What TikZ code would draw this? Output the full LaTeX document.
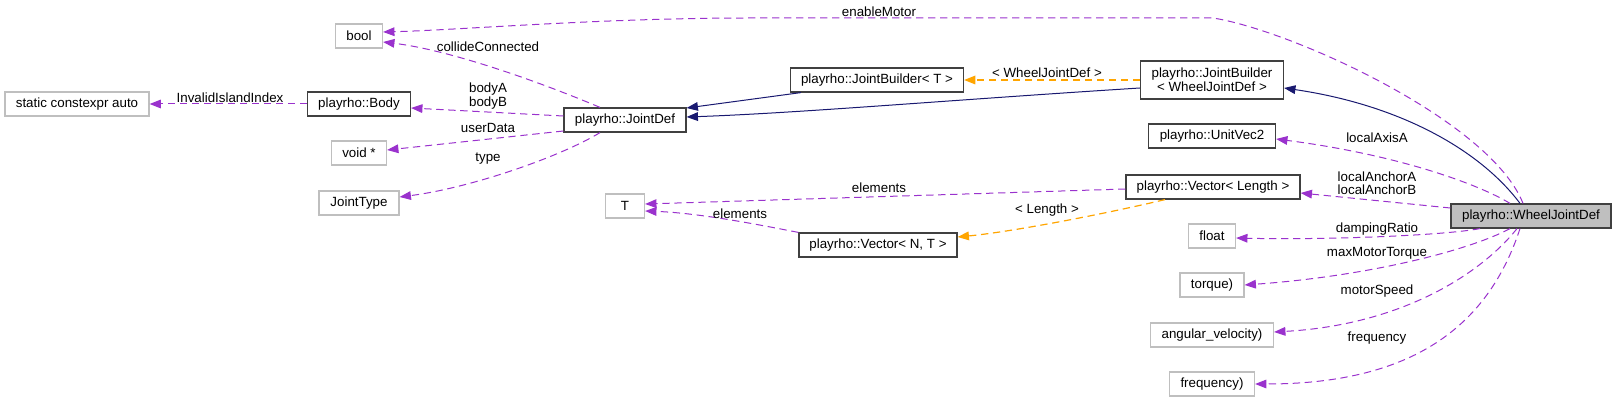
\documentclass[tikz,border=0pt]{standalone}
\usepackage{fontspec}
\setmainfont{Liberation Sans}
\usepackage{xcolor}
\usepackage{tikz}
\usetikzlibrary{arrows.meta}
\definecolor{member}{HTML}{9A32CD}
\definecolor{inherit}{HTML}{191970}
\definecolor{templ}{HTML}{FFA500}
\definecolor{frame}{HTML}{404040}
\definecolor{extgray}{HTML}{BFBFBF}
\tikzset{
    cls/.style={rectangle, draw=frame, line width=0.9pt, minimum height=18pt, inner sep=0pt, align=center, font=\fontsize{10}{10.5}\selectfont},
    extcls/.style={cls, draw=extgray},
    focus/.style={cls, fill=extgray},
    lbl/.style={inner sep=0pt, align=center, font=\fontsize{10}{10}\selectfont},
    uses/.style={-{Triangle[length=8.5pt,width=6.5pt]}, color=member, line width=0.75pt, dash pattern=on 5.5pt off 3.5pt},
    inh/.style={-{Triangle[length=8.5pt,width=6.5pt]}, color=inherit, line width=0.75pt},
    tmpl/.style={-{Triangle[length=8.5pt,width=6.5pt]}, color=templ, line width=0.9pt, dash pattern=on 5.5pt off 3.5pt}
}

\begin{document}
\begin{tikzpicture}[x=0.75pt, y=-0.75pt]
\useasboundingbox (0,0) rectangle (1616,402);

% classes and types
\node[extcls, minimum width=35.25pt] (bool) at (359,36) {bool};
\node[extcls, minimum width=108pt] (staticauto) at (77,104) {static constexpr auto};
\node[cls, minimum width=77.25pt] (body) at (359,104) {playrho::Body};
\node[extcls, minimum width=41.25pt] (voidptr) at (359,153) {void *};
\node[extcls, minimum width=60pt] (jointtype) at (359,203) {JointType};
\node[cls, minimum width=91.5pt] (jointdef) at (625,120) {playrho::JointDef};
\node[cls, minimum width=129.75pt] (builderT) at (877,80) {playrho::JointBuilder< T >};
\node[cls, minimum width=107.25pt, minimum height=28.5pt] (builderW) at (1212,80) {playrho::JointBuilder\\< WheelJointDef >};
\node[cls, minimum width=95.25pt] (unitvec) at (1212,136) {playrho::UnitVec2};
\node[cls, minimum width=130.5pt] (veclen) at (1213,187) {playrho::Vector< Length >};
\node[focus, minimum width=120pt] (wheel) at (1531,216) {playrho::WheelJointDef};
\node[extcls, minimum width=29.25pt] (tT) at (625,206) {T};
\node[cls, minimum width=118.5pt] (vecNT) at (878,245) {playrho::Vector< N, T >};
\node[extcls, minimum width=35.25pt] (float) at (1212,236) {float};
\node[extcls, minimum width=48pt] (torque) at (1212,285) {torque)};
\node[extcls, minimum width=92.25pt] (angvel) at (1212,335) {angular\_velocity)};
\node[extcls, minimum width=63.75pt] (freq) at (1212,384) {frequency)};

% inheritance
\draw[inh] ([xshift=8.25pt]builderT.south west) -- ([yshift=9pt]jointdef.east);
\draw[inh] ([yshift=-6pt]builderW.west) .. controls (950,100) and (800,113) .. ([yshift=2.25pt]jointdef.east);
\draw[inh] ([xshift=-8.25pt]wheel.north) .. controls (1480,150) and (1400,105) .. ([yshift=-6pt]builderW.east);

% template instances
\draw[tmpl] (builderW.west) -- (builderT.east);
\draw[tmpl] ([xshift=-36pt]veclen.south) .. controls (1100,215) and (1010,232) .. ([yshift=6pt]vecNT.east);

% members
\draw[uses] ([xshift=-6pt]wheel.north) .. controls (1490,120) and (1290,30) .. (1213,18) -- (750,18) .. controls (600,18) and (460,30) .. ([yshift=3pt]bool.east);
\draw[uses] ([xshift=-18.75pt]jointdef.north) .. controls (540,82) and (450,50) .. ([yshift=-4.5pt]bool.east);
\draw[uses] ([yshift=3pt]jointdef.west) -- ([yshift=-3pt]body.east);
\draw[uses] ([yshift=-8.25pt]jointdef.west) -- ([yshift=2.25pt]voidptr.east);
\draw[uses] ([xshift=-18.75pt]jointdef.south) .. controls (560,157) and (470,188) .. ([yshift=4.5pt]jointtype.east);
\draw[uses] (body.west) -- (staticauto.east);
\draw[uses] ([xshift=-15.75pt]wheel.north) .. controls (1480,185) and (1400,155) .. ([yshift=-2.25pt]unitvec.east);
\draw[uses] ([yshift=6pt]wheel.west) -- ([yshift=-4.5pt]veclen.east);
\draw[uses] ([yshift=-1.5pt]veclen.west) -- ([yshift=1.5pt]tT.east);
\draw[uses] (vecNT.north west) .. controls (760,225) and (700,213) .. ([yshift=-3.75pt]tT.east);
\draw[uses] ([xshift=-38.25pt]wheel.south) .. controls (1440,236) and (1320,240) .. ([yshift=-1.5pt]float.east);
\draw[uses] ([xshift=-15.75pt]wheel.south) .. controls (1470,250) and (1370,276) .. (torque.east);
\draw[uses] ([xshift=-10.5pt]wheel.south) .. controls (1480,275) and (1400,325) .. ([yshift=2.25pt]angvel.east);
\draw[uses] ([xshift=-8.25pt]wheel.south) .. controls (1490,320) and (1420,384) .. (freq.east);

% edge labels
\node[lbl] (enablemotor) at (879,12) {enableMotor};
\node[lbl] (collide) at (488,47) {collideConnected};
\node[lbl] (bodyab) at (488,96) {bodyA\\bodyB};
\node[lbl] (userdata) at (488,128) {userData};
\node[lbl] (typelbl) at (488,159) {type};
\node[lbl] (invalid) at (230,98) {InvalidIslandIndex};
\node[lbl] (wheelarg) at (1047,73) {< WheelJointDef >};
\node[lbl] (localaxis) at (1377,138) {localAxisA};
\node[lbl] (localanchor) at (1377,183) {localAnchorA\\localAnchorB};
\node[lbl] (elemtop) at (879,188) {elements};
\node[lbl] (lengtharg) at (1047,210) {< Length >};
\node[lbl] (elemlow) at (740,214) {elements};
\node[lbl] (damping) at (1377,229) {dampingRatio};
\node[lbl] (maxtorque) at (1377,253) {maxMotorTorque};
\node[lbl] (motorspeed) at (1377,291) {motorSpeed};
\node[lbl] (freqlbl) at (1377,338) {frequency};

\end{tikzpicture}
\end{document}
